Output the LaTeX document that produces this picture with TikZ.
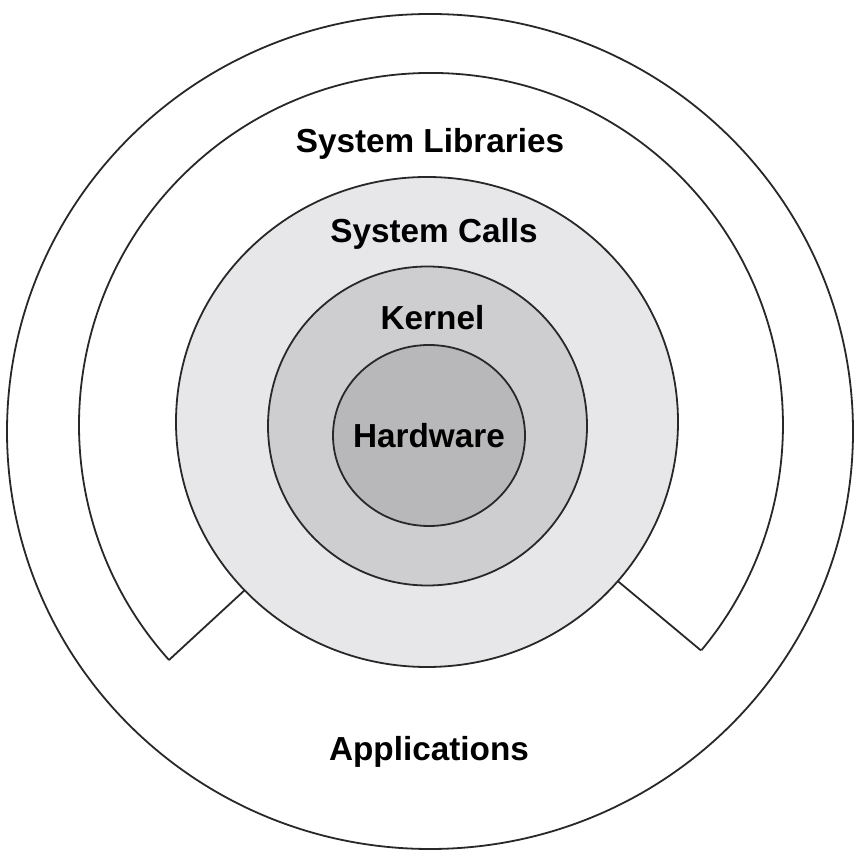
\documentclass[tikz,border=0pt]{standalone}
\usepackage{fontspec}
\setmainfont{Liberation Sans}
\usetikzlibrary{shapes.geometric}
\definecolor{hwgray}{RGB}{184,184,186}
\definecolor{krgray}{RGB}{206,206,208}
\definecolor{scgray}{RGB}{231,230,233}
\definecolor{edge}{RGB}{40,40,40}
\tikzset{
  layer/.style={ellipse, draw=edge, line width=1.8pt, inner sep=0pt, outer sep=0pt},
  lbl/.style={font=\fontsize{33.3}{40}\selectfont\bfseries, anchor=base}
}

\begin{document}
\begin{tikzpicture}[x=1pt,y=1pt]
\useasboundingbox (0,0) rectangle (858,862);
\fill[white] (0,0) rectangle (858,862);

\node (apps)[layer, minimum width=846pt, minimum height=835pt] at (430,430.5) {};

% library ring, open at the bottom
\coordinate (L1) at (169,202);
\coordinate (R1) at (700.9,211.6);
\draw[edge, line width=1.8pt] (L1) arc[start angle=221.9, end angle=-39.8, radius=352];

\node (calls)[layer, fill=scgray, minimum width=502pt, minimum height=490pt] at (427,440) {};
\draw[edge, line width=1.8pt] (L1) -- (calls);
\draw[edge, line width=1.8pt] (R1) -- (calls);

\node (kern)[layer, fill=krgray, minimum size=319pt] at (427.5,436) {};
\node (hw)[layer, fill=hwgray, minimum width=192pt, minimum height=181pt] at (429,426.5) {};

\node (libT)[lbl] at (430,709) {System Libraries};
\node (callT)[lbl] at (434,619) {System Calls};
\node (kernT)[lbl] at (432.5,532) {Kernel};
\node (hwT)[lbl] at (429,414) {Hardware};
\node (appT)[lbl] at (429,101.5) {Applications};
\end{tikzpicture}
\end{document}
